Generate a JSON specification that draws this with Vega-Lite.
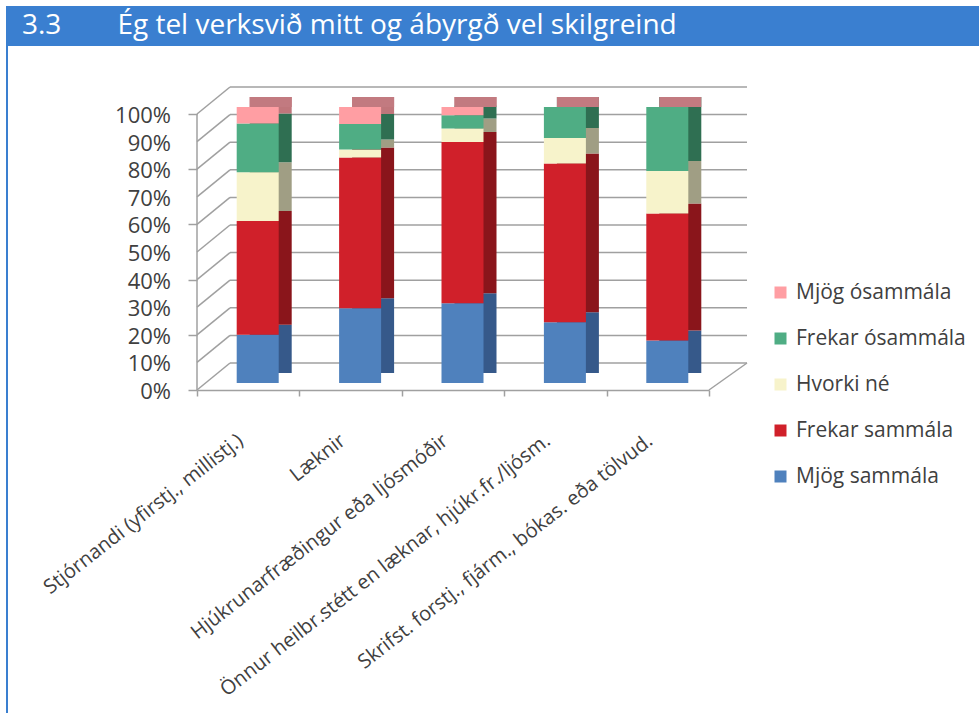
{
  "$schema": "https://vega.github.io/schema/vega-lite/v6.json",
  "padding": {"left": 6, "top": 6, "right": 0, "bottom": 0},
  "background": "white",
  "config": {"view": {"stroke": null}, "font": "Open Sans"},
  "datasets": {
    "survey": [
      {"cat": "Stjórnandi (yfirstj., millistj.)", "resp": "Mjög sammála", "rank": 1, "pct": 17.5},
      {"cat": "Stjórnandi (yfirstj., millistj.)", "resp": "Frekar sammála", "rank": 2, "pct": 41.2},
      {"cat": "Stjórnandi (yfirstj., millistj.)", "resp": "Hvorki né", "rank": 3, "pct": 17.7},
      {"cat": "Stjórnandi (yfirstj., millistj.)", "resp": "Frekar ósammála", "rank": 4, "pct": 17.6},
      {"cat": "Stjórnandi (yfirstj., millistj.)", "resp": "Mjög ósammála", "rank": 5, "pct": 6.0},
      {"cat": "Læknir", "resp": "Mjög sammála", "rank": 1, "pct": 27.1},
      {"cat": "Læknir", "resp": "Frekar sammála", "rank": 2, "pct": 54.6},
      {"cat": "Læknir", "resp": "Hvorki né", "rank": 3, "pct": 2.9},
      {"cat": "Læknir", "resp": "Frekar ósammála", "rank": 4, "pct": 9.2},
      {"cat": "Læknir", "resp": "Mjög ósammála", "rank": 5, "pct": 6.2},
      {"cat": "Hjúkrunarfræðingur eða ljósmóðir", "resp": "Mjög sammála", "rank": 1, "pct": 28.9},
      {"cat": "Hjúkrunarfræðingur eða ljósmóðir", "resp": "Frekar sammála", "rank": 2, "pct": 58.4},
      {"cat": "Hjúkrunarfræðingur eða ljósmóðir", "resp": "Hvorki né", "rank": 3, "pct": 4.9},
      {"cat": "Hjúkrunarfræðingur eða ljósmóðir", "resp": "Frekar ósammála", "rank": 4, "pct": 4.8},
      {"cat": "Hjúkrunarfræðingur eða ljósmóðir", "resp": "Mjög ósammála", "rank": 5, "pct": 3.0},
      {"cat": "Önnur heilbr.stétt en læknar, hjúkr.fr./ljósm.", "resp": "Mjög sammála", "rank": 1, "pct": 22.0},
      {"cat": "Önnur heilbr.stétt en læknar, hjúkr.fr./ljósm.", "resp": "Frekar sammála", "rank": 2, "pct": 57.5},
      {"cat": "Önnur heilbr.stétt en læknar, hjúkr.fr./ljósm.", "resp": "Hvorki né", "rank": 3, "pct": 9.3},
      {"cat": "Önnur heilbr.stétt en læknar, hjúkr.fr./ljósm.", "resp": "Frekar ósammála", "rank": 4, "pct": 11.2},
      {"cat": "Önnur heilbr.stétt en læknar, hjúkr.fr./ljósm.", "resp": "Mjög ósammála", "rank": 5, "pct": 0},
      {"cat": "Skrifst. forstj., fjárm., bókas. eða tölvud.", "resp": "Mjög sammála", "rank": 1, "pct": 15.4},
      {"cat": "Skrifst. forstj., fjárm., bókas. eða tölvud.", "resp": "Frekar sammála", "rank": 2, "pct": 46.0},
      {"cat": "Skrifst. forstj., fjárm., bókas. eða tölvud.", "resp": "Hvorki né", "rank": 3, "pct": 15.4},
      {"cat": "Skrifst. forstj., fjárm., bókas. eða tölvud.", "resp": "Frekar ósammála", "rank": 4, "pct": 23.2},
      {"cat": "Skrifst. forstj., fjárm., bókas. eða tölvud.", "resp": "Mjög ósammála", "rank": 5, "pct": 0}
    ],
    "grid": [
      {"v": 0, "lab": "0%"}, {"v": 10, "lab": "10%"}, {"v": 20, "lab": "20%"}, {"v": 30, "lab": "30%"},
      {"v": 40, "lab": "40%"}, {"v": 50, "lab": "50%"}, {"v": 60, "lab": "60%"}, {"v": 70, "lab": "70%"},
      {"v": 80, "lab": "80%"}, {"v": 90, "lab": "90%"}, {"v": 100, "lab": "100%"}
    ]
  },
  "bounds": "flush",
  "spacing": 0,
  "resolve": {"scale": {"color": "independent"}, "legend": {"color": "independent"}},
  "vconcat": [
    {
      "width": 973,
      "height": 40,
      "view": {"fill": "#3A7FD0", "stroke": null},
      "title": {
        "text": "3.3\u2003\u2003Ég tel verksvið mitt og ábyrgð vel skilgreind",
        "anchor": "start",
        "orient": "top",
        "offset": -56,
        "dx": 16,
        "baseline": "alphabetic",
        "color": "white",
        "fontSize": 28,
        "fontWeight": "normal",
        "font": "Open Sans"
      },
      "data": {"values": [{}]},
      "mark": {"type": "text", "text": ""},
      "encoding": {}
    },
    {
      "bounds": "flush",
      "spacing": 189,
      "resolve": {"scale": {"color": "independent"}, "legend": {"color": "independent"}},
      "hconcat": [
        {
          "width": 2,
          "height": 667,
          "view": {"fill": "#3A7FD0", "stroke": null},
          "data": {"values": [{}]},
          "mark": {"type": "text", "text": ""},
          "encoding": {}
        },
        {
          "width": 512,
          "height": 344,
          "resolve": {"scale": {"color": "independent"}},
          "layer": [
            {
              "data": {"name": "grid"},
              "mark": {"type": "rule", "color": "#A0A0A0", "strokeWidth": 1.5, "xOffset": 33, "x2Offset": 38, "yOffset": -27, "y2Offset": -27},
              "encoding": {
                "x": {
                  "datum": "Stjórnandi (yfirstj., millistj.)", "type": "nominal", "bandPosition": 0, "title": null,
                  "scale": {
                    "domain": ["Stjórnandi (yfirstj., millistj.)", "Læknir", "Hjúkrunarfræðingur eða ljósmóðir", "Önnur heilbr.stétt en læknar, hjúkr.fr./ljósm.", "Skrifst. forstj., fjárm., bókas. eða tölvud."],
                    "paddingInner": 0, "paddingOuter": 0
                  },
                  "axis": {
                    "tickBand": "extent", "tickSize": 6, "tickColor": "#A0A0A0", "tickWidth": 1.5,
                    "domainColor": "#A0A0A0", "domainWidth": 1.5,
                    "labelAngle": -38, "labelAlign": "right", "labelBaseline": "middle",
                    "labelFontSize": 20, "labelColor": "#404040", "labelFont": "Open Sans",
                    "labelPadding": 42, "labelOffset": -8, "labelLimit": 1000
                  }
                },
                "x2": {"datum": "Skrifst. forstj., fjárm., bókas. eða tölvud.", "bandPosition": 1},
                "y": {
                  "field": "v", "type": "quantitative", "title": null,
                  "scale": {"domain": [0, 124.638], "nice": false},
                  "axis": {
                    "values": [0, 10, 20, 30, 40, 50, 60, 70, 80, 90, 100],
                    "labels": false,
                    "domain": false, "grid": false,
                    "tickSize": 9, "tickColor": "#A0A0A0", "tickWidth": 1.5
                  }
                }
              }
            },
            {
              "data": {"name": "grid"},
              "mark": {"type": "rule", "color": "#A0A0A0", "strokeWidth": 1.5, "x2Offset": 33, "y2Offset": -27},
              "encoding": {
                "x": {"datum": "Stjórnandi (yfirstj., millistj.)", "type": "nominal", "bandPosition": 0, "title": null},
                "x2": {"datum": "Stjórnandi (yfirstj., millistj.)", "bandPosition": 0},
                "y": {"field": "v", "type": "quantitative", "title": null},
                "y2": {"field": "v"}
              }
            },
            {
              "data": {"name": "grid"},
              "mark": {"type": "text", "align": "right", "baseline": "middle", "fontSize": 22, "font": "Open Sans", "color": "#404040", "xOffset": -26, "yOffset": 2},
              "encoding": {
                "x": {"datum": "Stjórnandi (yfirstj., millistj.)", "type": "nominal", "bandPosition": 0, "title": null},
                "y": {"field": "v", "type": "quantitative", "title": null},
                "text": {"field": "lab", "type": "nominal"}
              }
            },
            {
              "data": {"values": [{}]},
              "mark": {"type": "rule", "color": "#A0A0A0", "strokeWidth": 1.5},
              "encoding": {
                "x": {"datum": "Stjórnandi (yfirstj., millistj.)", "type": "nominal", "bandPosition": 0, "title": null},
                "y": {"datum": 0, "type": "quantitative", "title": null},
                "y2": {"datum": 100}
              }
            },
            {
              "data": {"values": [{}]},
              "mark": {"type": "rule", "color": "#A0A0A0", "strokeWidth": 1.5, "x2Offset": 38, "y2Offset": -27},
              "encoding": {
                "x": {"datum": "Skrifst. forstj., fjárm., bókas. eða tölvud.", "type": "nominal", "bandPosition": 1, "title": null},
                "x2": {"datum": "Skrifst. forstj., fjárm., bókas. eða tölvud.", "bandPosition": 1},
                "y": {"datum": 0, "type": "quantitative", "title": null},
                "y2": {"datum": 0}
              }
            },
            {
              "data": {"name": "survey"},
              "mark": {"type": "bar", "width": 42, "xOffset": 22.5, "x2Offset": 22.5, "yOffset": -17, "y2Offset": -17},
              "encoding": {
                "x": {"field": "cat", "type": "nominal", "title": null},
                "y": {"field": "pct", "type": "quantitative", "stack": "zero", "title": null},
                "order": {"field": "rank", "type": "quantitative"},
                "color": {
                  "field": "resp", "type": "nominal",
                  "scale": {
                    "domain": ["Mjög ósammála", "Frekar ósammála", "Hvorki né", "Frekar sammála", "Mjög sammála"],
                    "range": ["#BF767B", "#2F6F52", "#A09E84", "#8A151B", "#36598A"]
                  },
                  "legend": null
                }
              }
            },
            {
              "data": {"name": "survey"},
              "transform": [{"filter": "datum.rank == 5"}],
              "mark": {"type": "bar", "width": 42, "color": "#C27A80", "xOffset": 22.5, "x2Offset": 22.5, "yOffset": -17, "y2Offset": -7},
              "encoding": {
                "x": {"field": "cat", "type": "nominal", "title": null},
                "y": {"datum": 100, "type": "quantitative", "title": null},
                "y2": {"datum": 100}
              }
            },
            {
              "data": {"name": "survey"},
              "mark": {"type": "bar", "width": 42, "xOffset": 9.5, "x2Offset": 9.5, "yOffset": -7, "y2Offset": -7},
              "encoding": {
                "x": {"field": "cat", "type": "nominal", "title": null},
                "y": {"field": "pct", "type": "quantitative", "stack": "zero", "title": null},
                "order": {"field": "rank", "type": "quantitative"},
                "color": {
                  "field": "resp", "type": "nominal",
                  "scale": {
                    "domain": ["Mjög ósammála", "Frekar ósammála", "Hvorki né", "Frekar sammála", "Mjög sammála"],
                    "range": ["#FF9EA3", "#4FAD84", "#F7F3CB", "#D0202A", "#4F81BD"]
                  },
                  "legend": {
                    "orient": "none", "legendX": 573, "legendY": 236,
                    "title": null, "symbolType": "square", "symbolSize": 144, "symbolStrokeWidth": 0,
                    "labelFontSize": 21, "labelColor": "#404040", "labelFont": "Open Sans",
                    "rowPadding": 24, "labelOffset": 5, "padding": 0, "labelLimit": 1000
                  }
                }
              }
            }
          ]
        }
      ]
    }
  ]
}
